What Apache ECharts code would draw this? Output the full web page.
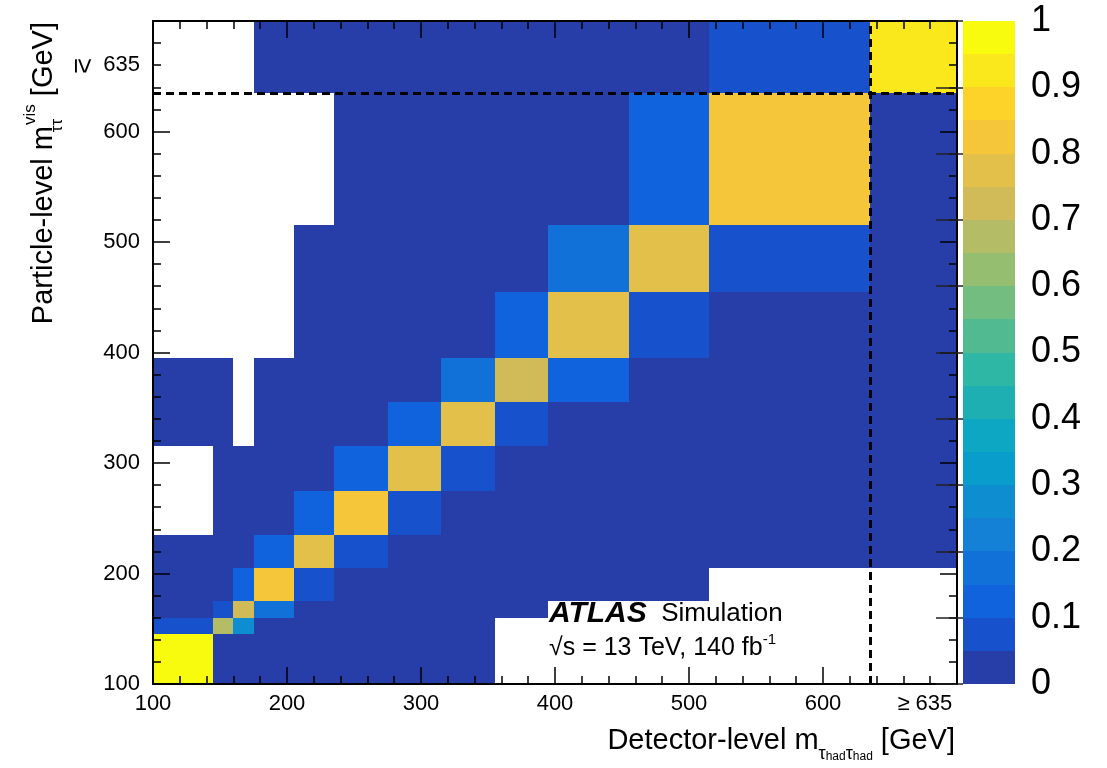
<!DOCTYPE html>
<html>
<head>
<meta charset="utf-8">
<title>Migration matrix m_vis</title>
<script src="https://cdn.jsdelivr.net/npm/echarts@6.0.0/dist/echarts.min.js"></script>
<style>
  html, body { margin: 0; padding: 0; background: #fff; }
  #chart { width: 1107px; height: 768px; }
</style>
</head>
<body>
<div id="chart"></div>
<script>
// Bin edges (GeV); the last bin is the overflow bin "≥ 635"
const detEdges = [100, 145, 160, 175, 205, 235, 275, 315, 355, 395, 455, 515, 635, 700];
const partEdges = [100, 145, 160, 175, 205, 235, 275, 315, 355, 395, 455, 515, 635, 700];
const overflowEdge = 635;
const overflowSign = '≥';
const overflowText = '635';
const axisTicks = [100, 200, 300, 400, 500, 600];
const colorTicks = [0, 0.1, 0.2, 0.3, 0.4, 0.5, 0.6, 0.7, 0.8, 0.9, 1];

// Migration fractions: one row per particle-level bin (bottom to top),
// one column per detector-level bin (left to right); null = empty bin
const row0  = [0.97, 0.02, 0.005, 0.003, 0.002, 0.001, 0.001, 0.001, null, null, null, null, null];
const row1  = [0.07, 0.67, 0.25, 0.004, 0.002, 0.001, 0.001, 0.001, null, null, null, null, null];
const row2  = [0.01, 0.09, 0.72, 0.17, 0.004, 0.002, 0.001, 0.001, 0.001, null, null, null, null];
const row3  = [0.003, 0.01, 0.105, 0.82, 0.075, 0.003, 0.002, 0.001, 0.001, 0.001, 0.001, null, null];
const row4  = [0.002, 0.003, 0.01, 0.12, 0.78, 0.085, 0.003, 0.002, 0.001, 0.001, 0.001, 0.001, 0.001];
const row5  = [null, 0.002, 0.003, 0.01, 0.11, 0.81, 0.07, 0.003, 0.002, 0.001, 0.001, 0.001, 0.001];
const row6  = [null, 0.001, 0.002, 0.003, 0.01, 0.12, 0.79, 0.075, 0.003, 0.002, 0.001, 0.001, 0.001];
const row7  = [0.001, 0.001, null, 0.002, 0.003, 0.01, 0.12, 0.79, 0.075, 0.003, 0.002, 0.001, 0.001];
const row8  = [0.001, 0.001, null, 0.001, 0.002, 0.003, 0.01, 0.17, 0.71, 0.11, 0.004, 0.002, 0.001];
const row9  = [null, null, null, null, 0.001, 0.002, 0.003, 0.01, 0.13, 0.78, 0.075, 0.003, 0.001];
const row10 = [null, null, null, null, 0.001, 0.001, 0.002, 0.003, 0.01, 0.18, 0.76, 0.06, 0.002];
const row11 = [null, null, null, null, null, 0.001, 0.001, 0.002, 0.003, 0.01, 0.13, 0.84, 0.02];
const row12 = [null, null, null, 0.001, 0.001, 0.001, 0.001, 0.002, 0.003, 0.004, 0.01, 0.07, 0.92];
const matrix = [row0, row1, row2, row3, row4, row5, row6, row7, row8, row9, row10, row11, row12];

// ROOT kBird palette, split into 20 contour levels
const birdStops = [0.0, 0.125, 0.25, 0.375, 0.5, 0.625, 0.75, 0.875, 1.0];
const birdR = [0.2082, 0.0592, 0.0780, 0.0232, 0.1802, 0.5301, 0.8186, 0.9956, 0.9764];
const birdG = [0.1664, 0.3599, 0.5041, 0.6419, 0.7178, 0.7492, 0.7328, 0.7862, 0.9832];
const birdB = [0.5293, 0.8684, 0.8385, 0.7914, 0.6425, 0.4662, 0.3499, 0.1968, 0.0539];
function bird(t) {
  let g = 1;
  while (g < birdStops.length - 1 && t > birdStops[g]) g++;
  const f = (t - birdStops[g - 1]) / (birdStops[g] - birdStops[g - 1]);
  const c = (arr) => Math.round(255 * (arr[g - 1] + (arr[g] - arr[g - 1]) * f));
  return 'rgb(' + c(birdR) + ',' + c(birdG) + ',' + c(birdB) + ')';
}
const nLevels = 20;
const pieces = [];
for (let k = 0; k < nLevels; k++) {
  const idx = Math.floor((k + 0.99) * 255 / nLevels);
  const p = { gte: k / nLevels, color: bird(Math.min(1, idx / 254)) };
  if (k === nLevels - 1) p.lte = 1; else p.lt = (k + 1) / nLevels;
  pieces.push(p);
}

// Cells as [x0, x1, y0, y1, value]
const cells = [];
matrix.forEach((row, j) => {
  row.forEach((v, i) => {
    if (v !== null) cells.push([detEdges[i], detEdges[i + 1], partEdges[j], partEdges[j + 1], v]);
  });
});
// Colour-bar segments in the same layout
const barCells = [];
for (let k = 0; k < nLevels; k++) {
  barCells.push([0, 1, k / nLevels, (k + 1) / nLevels, (k + 0.5) / nLevels]);
}

// Rectangles snapped to whole pixels so neighbouring bins join without seams
function renderRect(params, api) {
  const a = api.coord([api.value(0), api.value(2)]);
  const b = api.coord([api.value(1), api.value(3)]);
  const x0 = Math.round(a[0]), x1 = Math.round(b[0]);
  const y0 = Math.round(b[1]), y1 = Math.round(a[1]);
  return {
    type: 'rect',
    shape: { x: x0, y: y0, width: x1 - x0, height: y1 - y0 },
    style: { fill: api.visual('color') }
  };
}

const FONT = "'Liberation Sans', Arial, Helvetica, sans-serif";
const tickLine = { color: '#000', width: 1.5 };

function massAxis(extra) {
  return Object.assign({
    type: 'value', min: 100, max: 700, interval: 100, gridIndex: 0, z: 6,
    axisLine: { show: true, onZero: false, lineStyle: { color: '#000', width: 2 } },
    axisTick: { show: true, inside: true, length: 17, lineStyle: tickLine },
    minorTick: { show: true, splitNumber: 5, length: 8, lineStyle: tickLine },
    splitLine: { show: false },
    minorSplitLine: { show: false },
    axisLabel: { show: false }
  }, extra);
}

const chart = echarts.init(document.getElementById('chart'), null, { renderer: 'canvas' });
chart.setOption({
  animation: false,
  backgroundColor: '#fff',
  textStyle: { fontFamily: FONT },
  grid: [
    { left: 153, top: 21, width: 804, height: 663, containLabel: false },
    { left: 963, top: 21, width: 52, height: 663, containLabel: false }
  ],
  xAxis: [
    massAxis({ position: 'bottom',
      axisLabel: { show: true, customValues: axisTicks.concat([676]),
        formatter: (v) => v > overflowEdge ? overflowSign + ' ' + overflowText : String(v),
        fontSize: 22, color: '#000', fontFamily: FONT, margin: 9 } }),
    massAxis({ position: 'top' }),
    { type: 'value', gridIndex: 1, min: 0, max: 1, show: false }
  ],
  yAxis: [
    massAxis({ position: 'left',
      axisLabel: { show: true, customValues: axisTicks.concat([660]),
        formatter: (v) => v > overflowEdge ? overflowText : String(v),
        fontSize: 22, color: '#000', fontFamily: FONT, margin: 13 } }),
    massAxis({ position: 'right' }),
    { type: 'value', gridIndex: 1, min: 0, max: 1, interval: 0.1, position: 'right', z: 6,
      axisLine: { show: false },
      axisTick: { show: true, inside: true, length: 27, lineStyle: { color: '#222', width: 1.5 } },
      splitLine: { show: false },
      axisLabel: { show: true, fontSize: 36, color: '#000', fontFamily: FONT, margin: 16,
        customValues: colorTicks,
        formatter: (v) => (v === 0 || v === 1) ? String(v) : v.toFixed(1) } }
  ],
  visualMap: {
    type: 'piecewise', show: false, dimension: 4, seriesIndex: [0, 1], pieces: pieces
  },
  series: [
    {
      type: 'custom', name: 'migration', xAxisIndex: 0, yAxisIndex: 0, clip: true,
      renderItem: renderRect, encode: { x: [0, 1], y: [2, 3] }, data: cells, z: 2,
      markLine: {
        silent: true, symbol: 'none', z: 7, label: { show: false },
        lineStyle: { color: '#000', width: 3, type: [8, 5] },
        data: [{ xAxis: overflowEdge }, { yAxis: overflowEdge }]
      }
    },
    {
      type: 'custom', name: 'scale', xAxisIndex: 2, yAxisIndex: 2,
      renderItem: renderRect, encode: { x: [0, 1], y: [2, 3] }, data: barCells, z: 2
    }
  ],
  graphic: [
    {
      // "≥" of the top particle-level label, drawn turned as in the ROOT output
      type: 'text', x: 82, y: 66, rotation: -Math.PI / 2, z: 100,
      style: { text: overflowSign, fontSize: 27, fontFamily: FONT, fill: '#000',
        align: 'center', verticalAlign: 'middle' }
    },
    {
      type: 'text', x: 955, y: 741, z: 100,
      style: {
        text: '{a|Detector-level m}{s|τ}{h|had}{s|τ}{h|had}{a| [GeV]}',
        align: 'right', verticalAlign: 'middle', fill: '#000', fontFamily: FONT,
        rich: {
          a: { fontSize: 29, lineHeight: 44, fontFamily: FONT, fill: '#000' },
          s: { fontSize: 18, lineHeight: 18, verticalAlign: 'bottom', fontFamily: FONT, fill: '#000' },
          h: { fontSize: 12, lineHeight: 6, verticalAlign: 'bottom', fontFamily: FONT, fill: '#000' }
        }
      }
    },
    {
      type: 'text', x: 44, y: 22, rotation: Math.PI / 2, z: 100,
      style: {
        text: '{a|Particle-level m}{t|ττ}{v|vis}{a| [GeV]}',
        align: 'right', verticalAlign: 'middle', fill: '#000', fontFamily: FONT,
        rich: {
          a: { fontSize: 29, lineHeight: 44, fontFamily: FONT, fill: '#000' },
          t: { fontSize: 17, lineHeight: 18, width: 1, align: 'left', verticalAlign: 'bottom', fontFamily: FONT, fill: '#000' },
          v: { fontSize: 17, lineHeight: 18, verticalAlign: 'top', fontFamily: FONT, fill: '#000' }
        }
      }
    },
    {
      type: 'text', x: 549, y: 614, z: 100,
      style: {
        text: '{b|ATLAS}{r|  Simulation}',
        align: 'left', verticalAlign: 'middle', fill: '#000', fontFamily: FONT,
        rich: {
          b: { fontSize: 30, fontWeight: 'bold', fontStyle: 'italic', fontFamily: FONT, fill: '#000' },
          r: { fontSize: 26, fontFamily: FONT, fill: '#000' }
        }
      }
    },
    {
      type: 'text', x: 549, y: 648, z: 100,
      style: {
        text: '{r|√s = 13 TeV, 140 fb}{p|-1}',
        align: 'left', verticalAlign: 'middle', fill: '#000', fontFamily: FONT,
        rich: {
          r: { fontSize: 25, lineHeight: 32, fontFamily: FONT, fill: '#000' },
          p: { fontSize: 15, lineHeight: 14, verticalAlign: 'top', fontFamily: FONT, fill: '#000' }
        }
      }
    }
  ]
});
</script>
</body>
</html>
